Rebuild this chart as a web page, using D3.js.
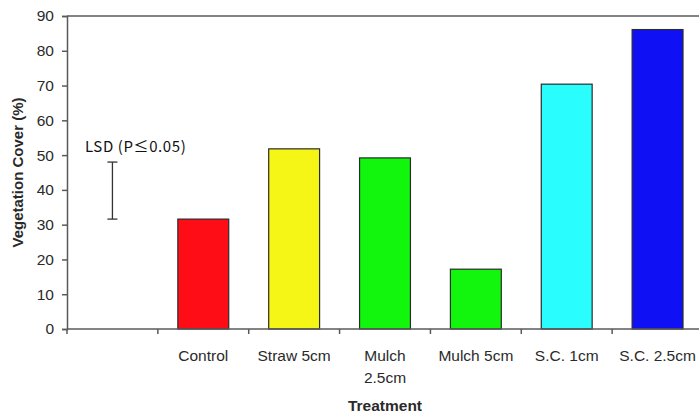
<!DOCTYPE html>
<html>
<head>
<meta charset="utf-8">
<script src="https://cdn.jsdelivr.net/npm/d3@7"></script>
<style>
  html, body { margin: 0; padding: 0; background: #fff; }
  svg { display: block; }
</style>
</head>
<body>
<svg id="chart" width="699" height="419"></svg>
<script>
// Vegetation cover by treatment
const categories = ["", "Control", "Straw 5cm", "Mulch 2.5cm", "Mulch 5cm", "S.C. 1cm", "S.C. 2.5cm"];
const tickLabels = [[""], ["Control"], ["Straw 5cm"], ["Mulch", "2.5cm"], ["Mulch 5cm"], ["S.C. 1cm"], ["S.C. 2.5cm"]];
const values = [null, 31.6, 51.8, 49.2, 17.2, 70.4, 86.1];
const barColors = [null, "#ff0d17", "#f5f516", "#12f50c", "#12f50c", "#2afdfd", "#1010f5"];
const yTicks = [0, 10, 20, 30, 40, 50, 60, 70, 80, 90];
const lsdLow = 31.6;
const lsdHigh = 48.0;
const lsdLabel = "LSD (P\u22640.05)";

const svg = d3.select("#chart");
const margin = { left: 67, top: 16, bottom: 329, right: 703 };

const x = d3.scaleBand()
  .domain(categories.map((c, i) => i))
  .range([margin.left, margin.right])
  .paddingInner(0.44)
  .paddingOuter(0.22);

const y = d3.scaleLinear().domain([0, 90]).range([margin.bottom, margin.top]);

const axisColor = "#5a5a5a";
const textColor = "#2a2a2a";
const sans = "'Liberation Sans', Arial, sans-serif";

// top frame line
svg.append("line")
  .attr("x1", margin.left).attr("x2", margin.right)
  .attr("y1", y(90)).attr("y2", y(90))
  .attr("stroke", axisColor).attr("stroke-width", 1.5);

// bars
svg.append("g").selectAll("rect")
  .data(values.map((v, i) => ({ v, i })).filter(d => d.v !== null))
  .join("rect")
  .attr("x", d => x(d.i))
  .attr("width", x.bandwidth())
  .attr("y", d => y(d.v))
  .attr("height", d => y(0) - y(d.v))
  .attr("fill", d => barColors[d.i])
  .attr("stroke", "#2b2b2b")
  .attr("stroke-width", 1.2);

// y axis
const yAxis = d3.axisLeft(y).tickValues(yTicks).tickSize(5).tickPadding(8);
const gy = svg.append("g").attr("transform", `translate(${margin.left},0)`).call(yAxis);
gy.select(".domain").attr("stroke", axisColor).attr("stroke-width", 1.5);
gy.selectAll(".tick line").attr("stroke", axisColor).attr("stroke-width", 1.5);
gy.selectAll(".tick text")
  .attr("fill", textColor)
  .style("font-family", sans)
  .style("font-size", "15.5px");

// x axis line and boundary ticks
const step = x.step();
svg.append("line")
  .attr("x1", margin.left).attr("x2", margin.right)
  .attr("y1", y(0)).attr("y2", y(0))
  .attr("stroke", axisColor).attr("stroke-width", 1.5);
const boundaries = d3.range(categories.length + 1).map(i => margin.left + i * step);
svg.append("g").selectAll("line")
  .data(boundaries)
  .join("line")
  .attr("x1", d => d).attr("x2", d => d)
  .attr("y1", y(0)).attr("y2", y(0) + 5)
  .attr("stroke", axisColor).attr("stroke-width", 1.5);

// category labels
const lab = svg.append("g")
  .style("font-family", sans)
  .style("font-size", "15.5px")
  .attr("fill", textColor)
  .attr("text-anchor", "middle");
tickLabels.forEach((lines, i) => {
  const cx = x(i) + x.bandwidth() / 2;
  const t = lab.append("text").attr("x", cx).attr("y", 361);
  lines.forEach((ln, k) => {
    t.append("tspan")
      .attr("x", cx)
      .attr("dy", k === 0 ? 0 : 22)
      .text(ln);
  });
});

// axis titles
svg.append("text")
  .attr("x", 385)
  .attr("y", 411)
  .attr("text-anchor", "middle")
  .style("font-family", sans)
  .style("font-size", "15.5px")
  .style("font-weight", "bold")
  .attr("fill", textColor)
  .text("Treatment");

svg.append("text")
  .attr("transform", `translate(23,${(margin.top + margin.bottom) / 2}) rotate(-90)`)
  .attr("text-anchor", "middle")
  .style("font-family", sans)
  .style("font-size", "15px")
  .style("font-weight", "bold")
  .attr("fill", textColor)
  .text("Vegetation Cover (%)");

// LSD error bar
const lx = x(0) + x.bandwidth() / 2;
const lsd = svg.append("g").attr("stroke", "#333").attr("stroke-width", 1.3);
lsd.append("line").attr("x1", lx).attr("x2", lx).attr("y1", y(lsdLow)).attr("y2", y(lsdHigh));
lsd.append("line").attr("x1", lx - 5).attr("x2", lx + 5).attr("y1", y(lsdLow)).attr("y2", y(lsdLow));
lsd.append("line").attr("x1", lx - 5).attr("x2", lx + 5).attr("y1", y(lsdHigh)).attr("y2", y(lsdHigh));

svg.append("text")
  .attr("x", 85)
  .attr("y", 152)
  .style("font-family", "'Noto Sans CJK KR', 'Noto Sans', sans-serif")
  .style("font-size", "15px")
  .style("letter-spacing", "0.6px")
  .attr("fill", "#111")
  .text(lsdLabel);
</script>
</body>
</html>
